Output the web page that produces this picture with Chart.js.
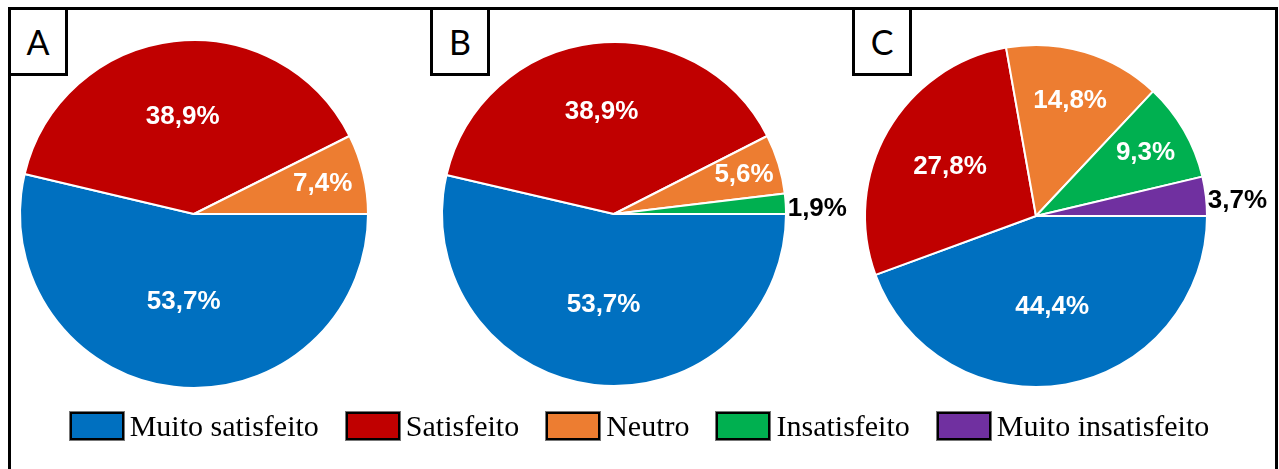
<!DOCTYPE html>
<html>
<head>
<meta charset="utf-8">
<script src="https://cdn.jsdelivr.net/npm/chart.js"></script>
<style>
  html, body { margin: 0; padding: 0; background: #fff; }
  body { width: 1279px; height: 469px; position: relative; overflow: hidden; }
  .pie { position: absolute; }
  .frame {
    position: absolute; left: 8px; top: 7px; width: 1264px; height: 480px;
    border: 3px solid #000; z-index: 2; pointer-events: none;
  }
  .tag {
    position: absolute; top: 7px; width: 54px; height: 63px;
    border: 3px solid #000; background: #fff; z-index: 3;
    font: 34px Lato, "Liberation Sans", sans-serif; color: #000;
    display: flex; align-items: center; justify-content: center;
  }
  #legend {
    position: absolute; left: 0; width: 1279px; top: 409px;
    display: flex; justify-content: center; gap: 27px; z-index: 3;
    font: 30px "Liberation Serif", "Times New Roman", serif; color: #000;
  }
  #legend .item { display: flex; align-items: center; }
  #legend .box {
    width: 50px; height: 24px; border: 2px solid #000; margin-right: 6px;
    box-shadow: 0 0 0 1px #777;
  }
</style>
</head>
<body>
<div class="frame"></div>
<div class="tag" style="left:8px">A</div>
<div class="tag" style="left:430px">B</div>
<div class="tag" style="left:852px">C</div>

<canvas id="pieA" class="pie" width="500" height="400" style="left:-56px; top:14px"></canvas>
<canvas id="pieB" class="pie" width="500" height="400" style="left:364px; top:14px"></canvas>
<canvas id="pieC" class="pie" width="500" height="400" style="left:786px; top:16px"></canvas>

<div id="legend"></div>

<script>
// satisfaction categories, clockwise from 3 o'clock
var categories = ['Muito satisfeito', 'Satisfeito', 'Neutro', 'Insatisfeito', 'Muito insatisfeito'];
var colors = ['#0070C0', '#C00000', '#ED7D31', '#00B050', '#7030A0'];

var valuesA = [53.7, 38.9, 7.4, 0, 0];
var valuesB = [53.7, 38.9, 5.6, 1.9, 0];
var valuesC = [44.4, 27.8, 14.8, 9.3, 3.7];

// where each percentage sits: fraction of radius, or 'out' beside the edge
var labelPosA = [0.51, 0.56, 0.76];
var labelPosB = [0.53, 0.6, 0.79, 'out'];
var labelPosC = [0.54, 0.58, 0.7, 0.74, 'out'];

var pctLabels = {
    id: 'pctLabels',
    afterDatasetsDraw: function (chart, args, opts) {
        var ctx = chart.ctx;
        var meta = chart.getDatasetMeta(0);
        var values = chart.data.datasets[0].data;
        ctx.save();
        ctx.font = 'bold 26px "Liberation Sans", Arial, sans-serif';
        ctx.textBaseline = 'middle';
        meta.data.forEach(function (arc, i) {
            var v = values[i];
            if (!v) return;
            var p = arc.getProps(['x', 'y', 'startAngle', 'endAngle', 'outerRadius'], true);
            var mid = (p.startAngle + p.endAngle) / 2;
            var text = v.toFixed(1).replace('.', ',') + '%';
            var pos = opts.pos[i];
            if (pos === 'out') {
                var r = p.outerRadius + 2;
                ctx.fillStyle = '#000';
                ctx.textAlign = 'left';
                ctx.fillText(text, p.x + Math.cos(mid) * r, p.y + Math.sin(mid) * r + 5);
            } else {
                var d = p.outerRadius * pos;
                ctx.fillStyle = '#fff';
                ctx.textAlign = 'center';
                ctx.fillText(text, p.x + Math.cos(mid) * d, p.y + Math.sin(mid) * d);
            }
        });
        ctx.restore();
    }
};

function makePie(id, values, radius, labelPos) {
    var ctx = document.getElementById(id).getContext('2d');
    return new Chart(ctx, {
        type: 'pie',
        data: {
            labels: categories,
            datasets: [{
                data: values,
                backgroundColor: colors,
                borderColor: '#fff',
                borderWidth: 2
            }]
        },
        options: {
            responsive: false,
            animation: false,
            events: [],
            rotation: 90,
            radius: radius,
            plugins: {
                legend: { display: false },
                tooltip: { enabled: false },
                pctLabels: { pos: labelPos }
            }
        },
        plugins: [pctLabels]
    });
}

makePie('pieA', valuesA, 174, labelPosA);
makePie('pieB', valuesB, 172, labelPosB);
makePie('pieC', valuesC, 171, labelPosC);

// shared legend under the three pies
var legend = document.getElementById('legend');
categories.forEach(function (name, i) {
    var item = document.createElement('div');
    item.className = 'item';
    var box = document.createElement('span');
    box.className = 'box';
    box.style.background = colors[i];
    var label = document.createElement('span');
    label.textContent = name;
    item.appendChild(box);
    item.appendChild(label);
    legend.appendChild(item);
});
</script>
</body>
</html>
